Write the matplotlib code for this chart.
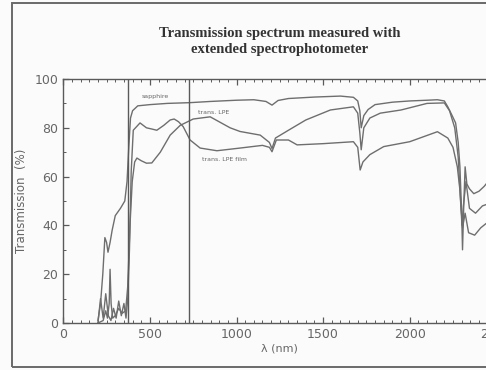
import matplotlib
matplotlib.use("Agg")
import matplotlib.pyplot as plt
from matplotlib.patches import Rectangle
from matplotlib.ticker import MultipleLocator

# ---- data ----
wl_sapphire = [200, 215, 228, 240, 250, 258, 270, 282, 300, 330, 355, 368, 378, 388, 400, 430, 500, 600, 730, 850,
               1000, 1100, 1170, 1205, 1240, 1300, 1450, 1600, 1675, 1700, 1712, 1720, 1735, 1760, 1800, 1900,
               2000, 2100, 2160, 2200, 2220, 2245, 2265, 2280, 2290, 2300, 2305, 2312, 2320, 2330, 2345, 2370,
               2400, 2430, 2460, 2500]
tr_sapphire = [1, 8, 20, 35, 33, 29, 33, 38, 44, 47, 50, 58, 72, 84, 87, 89, 89.5, 90, 90.3, 90.8,
               91.3, 91.5, 90.8, 89.3, 91.2, 92, 92.6, 93, 92.5, 91, 87, 80, 85, 87.5, 89.5, 90.5,
               91, 91.3, 91.5, 91, 88.6, 85, 82, 74, 64, 45, 30, 48, 64, 57, 55, 53, 54, 56, 58.6, 60]

wl_lpe = [200, 230, 245, 255, 265, 270, 276, 285, 300, 320, 340, 360, 372, 385, 398, 412, 425, 450, 480, 511, 560,
          617, 675, 750, 848, 963, 1020, 1137, 1190, 1205, 1225, 1300, 1400, 1542, 1675, 1700, 1712, 1720, 1735,
          1770, 1830, 1950, 2100, 2200, 2230, 2260, 2280, 2292, 2302, 2310, 2325, 2345, 2380, 2420, 2460, 2500]
tr_lpe = [0, 1, 5, 2, 8, 22, 8, 2, 3, 6, 4, 5, 15, 40, 58, 66, 67.6, 66.5, 65.5, 65.6, 70,
          77, 81, 83.6, 84.5, 80, 78.5, 77, 74, 71.5, 75.8, 79, 83.2, 87.3, 88.6, 86, 78, 71, 80,
          84, 86, 87.3, 90, 90.2, 87, 80, 68, 52, 40, 48, 58, 47, 45, 48, 49, 50]

wl_film = [200, 215, 230, 245, 260, 275, 290, 305, 320, 335, 350, 362, 372, 382, 392, 404, 443, 480, 511, 540, 580,
           617, 640, 665, 692, 732, 790, 887, 1021, 1150, 1190, 1205, 1230, 1300, 1350, 1500, 1675, 1700, 1714,
           1730, 1770, 1850, 2000, 2160, 2220, 2250, 2275, 2290, 2305, 2320, 2340, 2375, 2410, 2445, 2500]
tr_film = [0, 10, 2, 12, 3, 1, 6, 2, 9, 3, 8, 2, 10, 30, 62, 79, 82, 80, 79.5, 79, 81,
           83.2, 83.6, 82.5, 80.5, 75, 71.7, 70.6, 71.7, 72.8, 72, 70.2, 75, 75, 73, 73.5, 74.3, 72, 62.7,
           66, 69, 72.3, 74.3, 78.4, 75.8, 72, 64, 54.5, 39, 45, 37, 36, 39, 41, 42]

vlines_nm = [375, 728]
x_ticks = [0, 500, 1000, 1500, 2000, 2500]
y_ticks = [0, 20, 40, 60, 80, 100]

title = "Transmission spectrum measured with\nextended spectrophotometer"
xlabel = "λ (nm)"
ylabel = "Transmission  (%)"
labels = ["sapphire", "trans. LPE", "trans. LPE film"]

# ---- figure ----
ink = "#5a5a5a"
fig = plt.figure(figsize=(4.86, 3.70), dpi=100, facecolor="#fbfbfb")

# scanned page frame
fig.patches.append(Rectangle((12 / 486, 3 / 370), 1.2, 364 / 370, transform=fig.transFigure,
                             fill=False, edgecolor="#6a6a6a", linewidth=1.4, clip_on=False))

ax = fig.add_axes([63.3 / 486, 1 - 323 / 370, 433 / 486, 244 / 370])
ax.set_facecolor("#fbfbfb")
ax.set_xlim(0, 2500)
ax.set_ylim(0, 100)

for wl, tr in [(wl_sapphire, tr_sapphire), (wl_lpe, tr_lpe), (wl_film, tr_film)]:
    ax.plot(wl, tr, color="#6e6e6e", linewidth=1.0)

for v in vlines_nm:
    ax.axvline(v, color=ink, linewidth=1.0)

ax.set_xticks(x_ticks)
ax.set_yticks(y_ticks)
ax.xaxis.set_minor_locator(MultipleLocator(50))
ax.yaxis.set_minor_locator(MultipleLocator(10))
ax.tick_params(which="both", direction="in", top=True, right=True, colors=ink,
               labelsize=9, labelcolor="#666666")
ax.tick_params(which="major", length=4, width=0.9)
ax.tick_params(which="minor", length=2.5, width=0.7)
for s in ax.spines.values():
    s.set_color(ink)
    s.set_linewidth(1.0)
for lab in ax.get_xticklabels() + ax.get_yticklabels():
    lab.set_family("DejaVu Sans")

ax.set_xlabel(xlabel, fontsize=8, color="#666666", labelpad=2)
ax.set_ylabel(ylabel, fontsize=8.5, color="#666666", labelpad=5)

ax.text(450, 92, labels[0], fontsize=4.5, color="#666666", va="bottom")
ax.text(780, 85.3, labels[1], fontsize=4.5, color="#666666", va="bottom")
ax.text(800, 66, labels[2], fontsize=4.5, color="#666666", va="bottom")

fig.text(280 / 486, 1 - 41 / 370, title, ha="center", va="center", fontsize=10.5,
         fontweight="bold", family="Liberation Serif", color="#333333", linespacing=1.3)

fig.savefig("out.png", dpi=100, facecolor=fig.get_facecolor())
